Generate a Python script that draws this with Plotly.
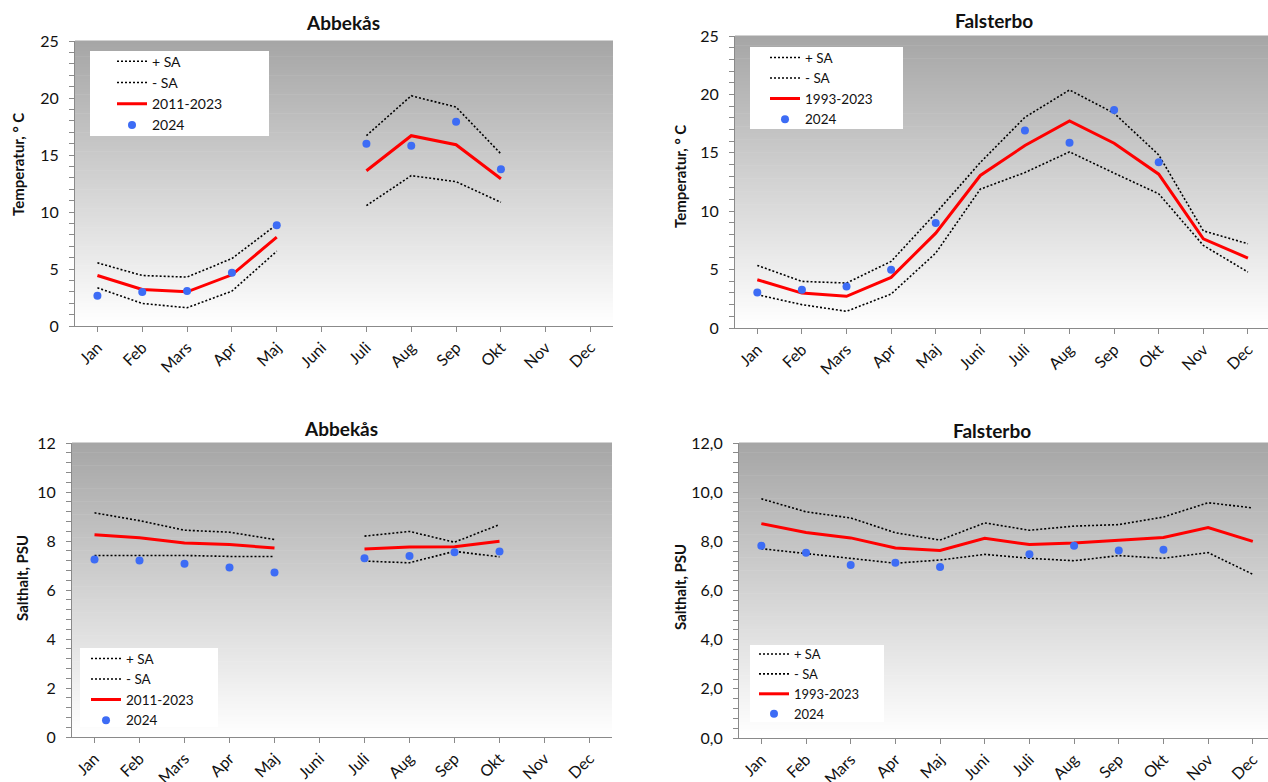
import plotly.graph_objects as go

W, H = 1268, 782

months = ["Jan", "Feb", "Mars", "Apr", "Maj", "Juni", "Juli", "Aug", "Sep", "Okt", "Nov", "Dec"]

# Abbekås temperature (°C)
abb_t_plus = [5.54, 4.43, 4.29, 5.92, 8.9, None, 16.7, 20.2, 19.2, 15.1, None, None]
abb_t_minus = [3.35, 1.98, 1.6, 3.06, 6.56, None, 10.56, 13.19, 12.66, 10.85, None, None]
abb_t_mean = [4.43, 3.21, 3.0, 4.49, 7.79, None, 13.62, 16.69, 15.9, 12.92, None, None]
abb_t_2024 = [2.65, 2.98, 3.06, 4.67, 8.84, None, 15.99, 15.81, 17.91, 13.74, None, None]

# Falsterbo temperature (°C)
fal_t_plus = [5.36, 3.99, 3.85, 5.70, 9.83, 14.17, 18.04, 20.38, 18.39, 14.82, 8.32, 7.21]
fal_t_minus = [2.85, 2.0, 1.43, 2.91, 6.41, 11.89, 13.31, 15.08, 13.26, 11.49, 7.07, 4.79]
fal_t_mean = [4.13, 2.99, 2.71, 4.33, 8.12, 13.06, 15.62, 17.73, 15.82, 13.17, 7.64, 5.99]
fal_t_2024 = [3.05, 3.28, 3.56, 4.99, 8.98, None, 16.9, 15.85, 18.67, 14.2, None, None]

# Abbekås salinity (PSU)
abb_s_plus = [9.15, 8.83, 8.44, 8.36, 8.06, None, 8.20, 8.39, 7.95, 8.67, None, None]
abb_s_minus = [7.41, 7.42, 7.41, 7.37, 7.37, None, 7.18, 7.11, 7.58, 7.35, None, None]
abb_s_mean = [8.26, 8.13, 7.92, 7.86, 7.71, None, 7.67, 7.75, 7.77, 7.99, None, None]
abb_s_2024 = [7.24, 7.20, 7.07, 6.92, 6.71, None, 7.30, 7.39, 7.54, 7.57, None, None]

# Falsterbo salinity (PSU)
fal_s_plus = [9.73, 9.20, 8.95, 8.35, 8.05, 8.75, 8.45, 8.62, 8.68, 8.99, 9.57, 9.36]
fal_s_minus = [7.70, 7.51, 7.33, 7.11, 7.24, 7.47, 7.31, 7.21, 7.42, 7.31, 7.54, 6.66]
fal_s_mean = [8.72, 8.36, 8.14, 7.73, 7.63, 8.12, 7.87, 7.93, 8.04, 8.16, 8.56, 8.0]
fal_s_2024 = [7.82, 7.54, 7.04, 7.13, 6.96, None, 7.47, 7.82, 7.63, 7.66, None, None]

FONT = "Lato"
AX = "#8a8a8a"
TXT = "#111111"
RED = "#ff0000"
BLUE = "#3d6cf5"


def px(x):
    return x / W


def py(y):
    return 1 - y / H


panels = [
    dict(title="Abbekås", tpos=(343, 22), data=(abb_t_plus, abb_t_minus, abb_t_mean, abb_t_2024), period="2011-2023",
         ylabel="Temperatur, ° C", ypos=(18, 165), xd=(75, 613), yd=(41, 326), xmax=11.5, yr=(0, 25), dtick=5,
         minor=1, fmt="d", box=(90, 51, 269, 136), leg=(112, 56.3), lfs=14),
    dict(title="Falsterbo", tpos=(994, 21), data=(fal_t_plus, fal_t_minus, fal_t_mean, fal_t_2024), period="1993-2023",
         ylabel="Temperatur, ° C", ypos=(680, 177), xd=(735, 1268), yd=(36, 328), xmax=11.45, yr=(0, 25), dtick=5,
         minor=1, fmt="d", box=(750, 47, 903, 129), leg=(765, 52.5), lfs=13.5),
    dict(title="Abbekås", tpos=(341, 428), data=(abb_s_plus, abb_s_minus, abb_s_mean, abb_s_2024), period="2011-2023",
         ylabel="Salthalt, PSU", ypos=(22, 578), xd=(72, 612), yd=(443, 737), xmax=11.5, yr=(0, 12), dtick=2,
         minor=0.4, fmt="d", box=(80, 648, 218, 727), leg=(86, 653.5), lfs=13.5),
    dict(title="Falsterbo", tpos=(992, 430), data=(fal_s_plus, fal_s_minus, fal_s_mean, fal_s_2024), period="1993-2023",
         ylabel="Salthalt, PSU", ypos=(680, 587), xd=(739, 1268), yd=(443, 738), xmax=11.34, yr=(0, 12), dtick=2,
         minor=0.4, fmt=".1f", box=(750, 645, 884, 722), leg=(754, 649), lfs=13),
]

fig = go.Figure()
shapes = []
annotations = []
layout = dict(width=W, height=H, margin=dict(l=0, r=0, t=0, b=0, autoexpand=False), paper_bgcolor="white",
              plot_bgcolor="rgba(0,0,0,0)", separators=", ", font=dict(family=FONT, color=TXT),
              showlegend=True)

NB = 90
for i, p in enumerate(panels):
    n = "" if i == 0 else str(i + 1)
    xa, ya = "x" + n, "y" + n
    lg = "legend" + n
    plus, minus, mean, y24 = p["data"]
    common = dict(x=months, xaxis=xa, yaxis=ya, legend=lg, connectgaps=False, hoverinfo="skip")
    fig.add_trace(go.Scatter(y=plus, mode="lines", name="+ SA",
                             line=dict(color="black", width=1.6, dash="2px,2px"), **common))
    fig.add_trace(go.Scatter(y=minus, mode="lines", name="- SA",
                             line=dict(color="black", width=1.6, dash="2px,2px"), **common))
    fig.add_trace(go.Scatter(y=mean, mode="lines", name=p["period"],
                             line=dict(color=RED, width=3), **common))
    fig.add_trace(go.Scatter(y=y24, mode="markers", name="2024",
                             marker=dict(color=BLUE, size=8), **common))

    layout["xaxis" + n] = dict(domain=[px(p["xd"][0]), px(p["xd"][1])], anchor=ya, type="category",
                               categoryorder="array", categoryarray=months, range=[-0.5, p["xmax"]],
                               showline=True, linecolor=AX, linewidth=1, ticks="outside", ticklen=5,
                               tickcolor=AX, tickangle=-45, showgrid=False, zeroline=False, automargin=False,
                               tickfont=dict(family=FONT, size=16, color=TXT), fixedrange=True)
    layout["yaxis" + n] = dict(domain=[py(p["yd"][1]), py(p["yd"][0])], anchor=xa, range=list(p["yr"]),
                               dtick=p["dtick"], tick0=0, tickformat=p["fmt"], showline=True, linecolor=AX,
                               linewidth=1, ticks="outside", ticklen=5, tickcolor=AX, showgrid=False,
                               zeroline=False, ticklabelstandoff=7, automargin=False,
                               tickfont=dict(family=FONT, size=16, color=TXT),
                               minor=dict(dtick=p["minor"], tick0=0, ticks="outside", ticklen=5, tickcolor=AX,
                                          showgrid=False),
                               fixedrange=True)
    # gradient background
    for k in range(NB):
        t = k / (NB - 1)
        c = int(round(255 - (255 - 166) * t))
        shapes.append(dict(type="rect", xref=xa + " domain", yref=ya + " domain", x0=0, x1=1,
                           y0=k / NB, y1=(k + 1) / NB + 0.002, line=dict(width=0),
                           fillcolor=f"rgb({c},{c},{c})", layer="below"))
    # legend box
    bx0, by0, bx1, by1 = p["box"]
    shapes.append(dict(type="rect", xref="paper", yref="paper", x0=px(bx0), x1=px(bx1), y0=py(by1), y1=py(by0),
                       line=dict(width=0), fillcolor="white", layer="below"))
    fs = p["lfs"]
    ih = fs * 1.3 + 3
    layout[lg] = dict(x=px(p["leg"][0]), y=py(p["leg"][1] - ih / 2), xanchor="left", yanchor="top",
                      bgcolor="rgba(0,0,0,0)", borderwidth=0, font=dict(family=FONT, size=fs, color=TXT),
                      tracegroupgap=0, itemclick=False, itemdoubleclick=False)
    annotations.append(dict(text="<b>" + p["title"] + "</b>", x=px(p["tpos"][0]), y=py(p["tpos"][1]),
                            xref="paper", yref="paper", showarrow=False, xanchor="center", yanchor="middle",
                            font=dict(family=FONT, size=19, color=TXT)))
    annotations.append(dict(text="<b>" + p["ylabel"] + "</b>", x=px(p["ypos"][0]), y=py(p["ypos"][1]),
                            xref="paper", yref="paper", showarrow=False, xanchor="center", yanchor="middle",
                            textangle=-90, font=dict(family=FONT, size=15, color=TXT)))

layout["shapes"] = shapes
layout["annotations"] = annotations
fig.update_layout(**layout)
fig.write_html("out.html")
